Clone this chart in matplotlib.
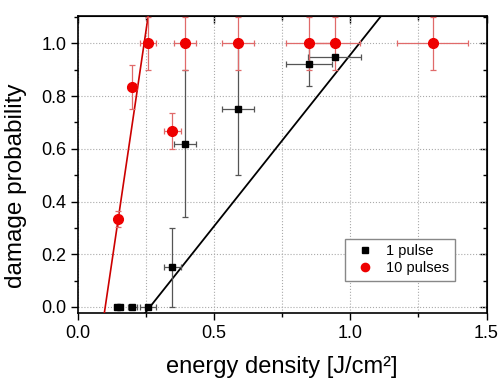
import numpy as np
import matplotlib.pyplot as plt
from matplotlib.ticker import MultipleLocator

plt.rcParams["font.family"] = ["Liberation Sans", "DejaVu Sans"]

# 1 pulse (black squares)
one_x = [0.145, 0.153, 0.200, 0.256, 0.346, 0.394, 0.587, 0.847, 0.942]
one_y = [0.0, 0.0, 0.0, 0.0, 0.15, 0.62, 0.75, 0.92, 0.95]
one_xerr = [0.010, 0.010, 0.017, 0.029, 0.032, 0.041, 0.058, 0.085, 0.097]
one_yerr = [0.0, 0.0, 0.0, 0.0, 0.15, 0.28, 0.25, 0.08, 0.0]

# 10 pulses (red circles)
ten_x = [0.148, 0.200, 0.256, 0.346, 0.394, 0.587, 0.847, 0.942, 1.303]
ten_y = [0.333, 0.833, 1.0, 0.667, 1.0, 1.0, 1.0, 1.0, 1.0]
ten_xerr = [0.010, 0.017, 0.029, 0.032, 0.041, 0.058, 0.085, 0.095, 0.130]
ten_yerr = [0.03, 0.083, 0.1, 0.067, 0.1, 0.1, 0.1, 0.1, 0.1]

# linear fits: y = slope * (x - threshold)
fit_one = (1.30, 0.264)
fit_ten = (7.0, 0.100)

fig = plt.figure(figsize=(5.0, 3.79), dpi=100)
ax = fig.add_axes([0.156, 0.174, 0.817, 0.784])

xs = np.linspace(0, 1.5, 400)
ax.plot(xs, fit_ten[0] * (xs - fit_ten[1]), color="#cc0000", lw=1.2, zorder=3)
ax.plot(xs, fit_one[0] * (xs - fit_one[1]), color="black", lw=1.3, zorder=3)

ax.errorbar(one_x, one_y, xerr=one_xerr, yerr=one_yerr, fmt="none",
            ecolor="#555555", elinewidth=0.9, capsize=2.5, capthick=0.9, zorder=4)
ax.errorbar(ten_x, ten_y, xerr=ten_xerr, yerr=ten_yerr, fmt="none",
            ecolor="#e06a6a", elinewidth=0.9, capsize=2.5, capthick=0.9, zorder=4)
ax.plot(one_x, one_y, "s", color="black", ms=5, ls="none", label="1 pulse", zorder=6)
ax.plot(ten_x, ten_y, "o", color="#ee0000", ms=7, ls="none", label="10 pulses", zorder=5)

ax.set_xlim(0, 1.5)
ax.set_ylim(-0.023, 1.104)
ax.xaxis.set_major_locator(MultipleLocator(0.5))
ax.xaxis.set_minor_locator(MultipleLocator(0.25))
ax.yaxis.set_major_locator(MultipleLocator(0.2))
ax.yaxis.set_minor_locator(MultipleLocator(0.1))
ax.grid(True, which="major", color="#aaaaaa", ls=":", lw=0.8)
ax.grid(True, which="minor", axis="x", color="#aaaaaa", ls=":", lw=0.8)
ax.set_axisbelow(True)

ax.tick_params(which="both", direction="out", width=1.0, labelsize=13)
ax.tick_params(which="major", length=5)
ax.tick_params(which="minor", length=3)
for s in ax.spines.values():
    s.set_linewidth(1.2)

# mirrored ticks pointing inward on top and right
top = ax.secondary_xaxis("top")
right = ax.secondary_yaxis("right")
top.xaxis.set_major_locator(MultipleLocator(0.5))
top.xaxis.set_minor_locator(MultipleLocator(0.25))
right.yaxis.set_major_locator(MultipleLocator(0.2))
right.yaxis.set_minor_locator(MultipleLocator(0.1))
for sec in (top, right):
    sec.tick_params(which="both", direction="in", width=1.0, labeltop=False, labelright=False)
    sec.tick_params(which="major", length=5)
    sec.tick_params(which="minor", length=3)

ax.set_xlabel("energy density [J/cm²]", fontsize=17, labelpad=10)
ax.set_ylabel("damage probability", fontsize=17.5)
ax.yaxis.set_label_coords(-0.125, 0.43)

leg = ax.legend(loc="lower right", bbox_to_anchor=(0.94, 0.085), fontsize=10.5,
                fancybox=False, edgecolor="#888888", framealpha=1, handletextpad=0.5,
                borderpad=0.35, labelspacing=0.2, markerscale=0.85)
leg.get_frame().set_linewidth(1.0)

fig.savefig("out.png", dpi=100)
